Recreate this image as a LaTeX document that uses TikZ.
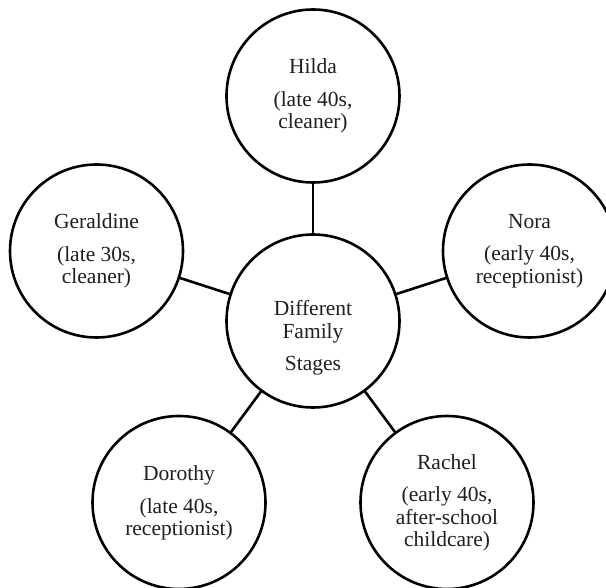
\documentclass[tikz,border=0pt]{standalone}
\usepackage{fontspec}
\setmainfont{Liberation Serif}
\begin{document}
\begin{tikzpicture}[x=1pt,y=-1pt,
  circ/.style={draw=black,line width=2.6pt,circle,minimum size=173pt,inner sep=0pt,outer sep=0pt,fill=white},
  lbl/.style={align=center,font=\fontsize{21.5}{22.5}\selectfont,inner sep=0pt,text=black!88},
  link/.style={draw=black,line width=2.6pt}]
\useasboundingbox (0,0) rectangle (606,588);
\node[circ] (c) at (313,321) {};
\node[circ] (h) at (313,96) {};
\node[circ] (g) at (96.5,251) {};
\node[circ] (n) at (529.5,251) {};
\node[circ] (d) at (179,502.5) {};
\node[circ] (r) at (447,502.5) {};
\node[lbl] (ct) at (313,338) {Different\\Family\\[10pt]Stages};
\node[lbl] (ht) at (313,96) {Hilda\\[10pt](late 40s,\\cleaner)};
\node[lbl] (gt) at (96.5,251) {Geraldine\\[10pt](late 30s,\\cleaner)};
\node[lbl] (nt) at (529.5,251) {Nora\\[10pt](early 40s,\\receptionist)};
\node[lbl] (dt) at (179,503) {Dorothy\\[10pt](late 40s,\\receptionist)};
\node[lbl] (rt) at (447,503) {Rachel\\[10pt](early 40s,\\after-school\\childcare)};
\draw[link] (c) -- (h);
\draw[link] (c) -- (g);
\draw[link] (c) -- (n);
\draw[link] (c) -- (d);
\draw[link] (c) -- (r);
\end{tikzpicture}
\end{document}
